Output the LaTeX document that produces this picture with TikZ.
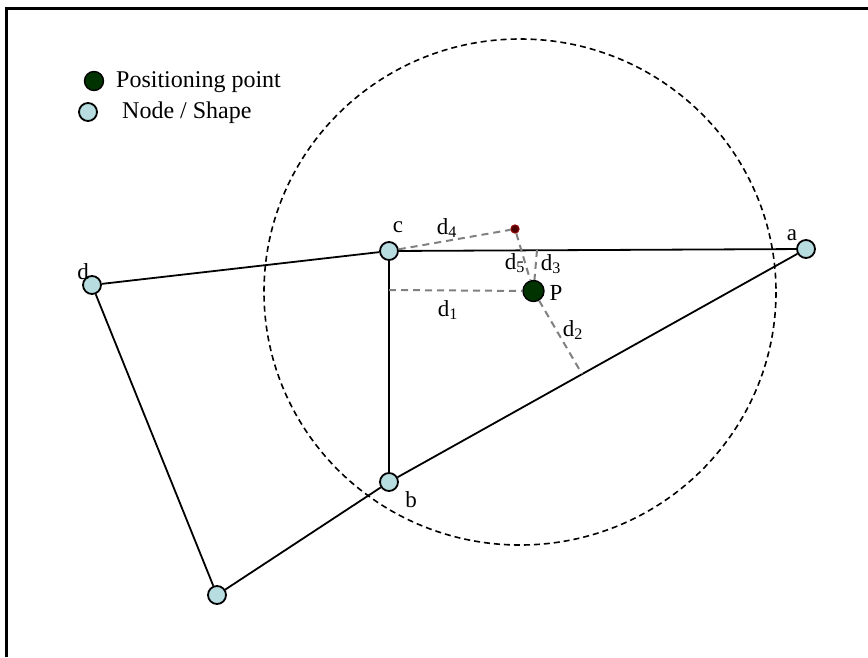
\documentclass[tikz,border=0pt]{standalone}
\usepackage{fontspec}
\setmainfont{Liberation Serif}
\definecolor{nodefill}{RGB}{183,221,224}
\definecolor{posfill}{RGB}{0,51,0}
\definecolor{reddot}{RGB}{110,0,0}
\definecolor{dgray}{RGB}{128,128,128}
\begin{document}
\begin{tikzpicture}[x=1pt,y=-1pt,
  shapenode/.style={circle,draw=black,fill=nodefill,minimum size=18pt,inner sep=0pt,line width=1.8pt},
  posnode/.style={circle,draw=black,fill=posfill,minimum size=19pt,inner sep=0pt,line width=1.4pt},
  rednode/.style={circle,draw=reddot!80!red,fill=reddot!70!black,minimum size=8pt,inner sep=0pt,line width=1.2pt},
  edge/.style={draw=black,line width=1.8pt},
  dline/.style={draw=dgray,line width=2pt,dash pattern=on 7pt off 5pt},
  lbl/.style={font=\fontsize{23}{27}\selectfont,inner sep=0pt},
  legtext/.style={font=\fontsize{24}{28}\selectfont,inner sep=0pt,anchor=west}]
\useasboundingbox (0,0) rectangle (868,657);
% frame
\draw[line width=3pt] (6,657) -- (6,8) -- (868,8);
% dashed circle
\draw[line width=1.6pt,dash pattern=on 6pt off 4pt] (520,292) ellipse[x radius=256, y radius=253];
% legend
\node[posnode] (lp) at (94,81) {};
\node[legtext] (lpt) at (116,82) {Positioning point};
\node[shapenode] (ls) at (88,112) {};
\node[legtext] (lst) at (122,113) {Node / Shape};
% nodes
\node[shapenode] (a) at (806,249) {};
\node[shapenode] (b) at (389,482) {};
\node[shapenode] (c) at (389,251) {};
\node[shapenode] (d) at (92,285) {};
\node[shapenode] (e) at (217,595) {};
\node[posnode,minimum width=21pt,minimum height=18pt] (P) at (533.5,291) {};
\node[rednode] (r) at (515,229) {};
% edges
\draw[edge] (c) -- (a);
\draw[edge] (c) -- (b);
\draw[edge] (b) -- (a);
\draw[edge] (d) -- (c);
\draw[edge] (d) -- (e);
\draw[edge] (e) -- (b);
% distance lines
\coordinate (f1) at (389,290);
\coordinate (f2) at (582,374);
\coordinate (f3) at (537,250);
\draw[dline] (f1) -- (P);
\draw[dline] (P) -- (f2);
\draw[dline] (f3) -- (P);
\draw[dline] (c) -- (r);
\draw[dline] (r) -- (P);
% labels
\node[lbl] (la) at (792,235) {a};
\node[lbl] (lb) at (411,500) {b};
\node[lbl] (lc) at (398,227) {c};
\node[lbl] (ld) at (83,272) {d};
\node[lbl] (lP) at (556,293) {P};
\node[lbl] (ld1) at (448,310) {d\textsubscript{1}};
\node[lbl] (ld2) at (573,330) {d\textsubscript{2}};
\node[lbl] (ld3) at (551,264) {d\textsubscript{3}};
\node[lbl] (ld4) at (447,228) {d\textsubscript{4}};
\node[lbl] (ld5) at (515,263) {d\textsubscript{5}};
\end{tikzpicture}
\end{document}
